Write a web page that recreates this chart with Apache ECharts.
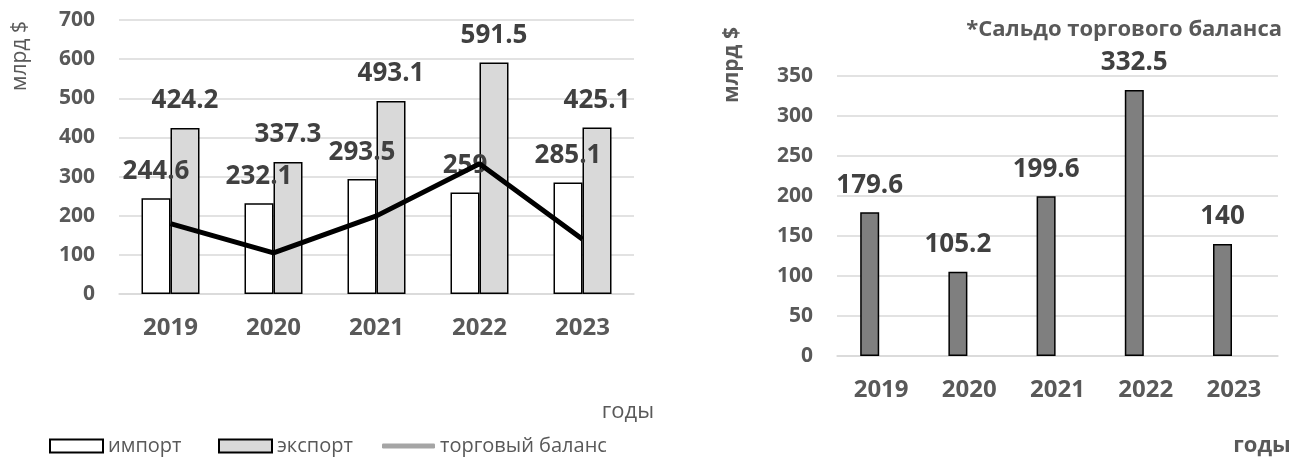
<!DOCTYPE html>
<html>
<head>
<meta charset="utf-8">
<title>Торговый баланс</title>
<script src="https://cdn.jsdelivr.net/npm/echarts@6.0.0/dist/echarts.min.js"></script>
<style>
	html, body { margin: 0; padding: 0; background: #fff; }
	#chart { width: 1293px; height: 458px; }
</style>
</head>
<body>
<div id="chart"></div>
<script>
// данные
var years = ['2019', '2020', '2021', '2022', '2023'];
var importVals = [244.6, 232.1, 293.5, 259, 285.1];
var exportVals = [424.2, 337.3, 493.1, 591.5, 425.1];
var balanceVals = [179.6, 105.2, 199.6, 332.5, 140];
var leftTicks = { min: 0, max: 700, step: 100 };
var rightTicks = { min: 0, max: 350, step: 50 };

var FONT = '"Open Sans", "Noto Sans", sans-serif';
var GRAY = '#595959';
var LABEL = '#404040';
var GRID = '#d9d9d9';

function valueAxis(gridIndex, ticks) {
	return {
		type: 'value',
		gridIndex: gridIndex,
		min: ticks.min,
		max: ticks.max,
		interval: ticks.step,
		axisLine: { show: false },
		axisTick: { show: false },
		axisLabel: {
			margin: 24,
			color: GRAY,
			fontFamily: FONT,
			fontWeight: 'bold',
			fontSize: 21
		},
		splitLine: { lineStyle: { color: GRID, width: 1.5 } }
	};
}

function catAxis(gridIndex) {
	return {
		type: 'category',
		gridIndex: gridIndex,
		data: years,
		axisLine: { lineStyle: { color: GRID, width: 1.5 } },
		axisTick: { show: false },
		axisLabel: {
			margin: 22,
			color: GRAY,
			fontFamily: FONT,
			fontWeight: 'bold',
			fontSize: 24
		}
	};
}

function barLabel() {
	return {
		show: true,
		position: 'top',
		distance: 14,
		color: LABEL,
		fontFamily: FONT,
		fontWeight: 'bold',
		fontSize: 26
	};
}

function legendAt(name, left, h, opt) {
	var item = { name: name, icon: 'rect' };
	if (opt) {
		for (var k in opt) item[k] = opt[k];
	}
	return {
		data: [item],
		left: left,
		top: 431,
		itemWidth: 53,
		itemHeight: h,
		itemGap: 0,
		selectedMode: false,
		textStyle: { color: GRAY, fontFamily: FONT, fontSize: 20, padding: [0, 0, 0, 0] }
	};
}

function sideText(x, y, text, bold, size, rotate) {
	return {
		type: 'text',
		x: x,
		y: y,
		rotation: rotate ? Math.PI / 2 : 0,
		style: {
			text: text,
			fill: GRAY,
			font: (bold ? 'bold ' : '') + size + 'px ' + FONT,
			textAlign: 'center',
			textVerticalAlign: 'middle'
		}
	};
}

var chart = echarts.init(document.getElementById('chart'), null, { renderer: 'canvas' });

var option = {
	animation: false,
	backgroundColor: '#fff',
	title: {
		text: '*Сальдо торгового баланса',
		right: 6,
		top: 14,
		textStyle: { color: GRAY, fontFamily: FONT, fontWeight: 'bold', fontSize: 22 }
	},
	grid: [
		{ left: 119, right: 659, top: 20, bottom: 164 },
		{ left: 837, right: 15, top: 76, bottom: 102 }
	],
	xAxis: [catAxis(0), catAxis(1)],
	yAxis: [valueAxis(0, leftTicks), valueAxis(1, rightTicks)],
	legend: [
		legendAt('импорт', 44, 13),
		legendAt('экспорт', 213, 13),
		legendAt('торговый баланс', 377, 5, {
			icon: 'roundRect',
			itemStyle: { color: '#a5a5a5', borderWidth: 0 }
		})
	],
	graphic: [
		sideText(20, 56, 'млрд $', false, 21, true),
		sideText(628, 412, 'годы', false, 22, false),
		sideText(732, 65, 'млрд $', true, 21, true),
		sideText(1262, 446, 'годы', true, 22, false)
	],
	series: [
		{
			name: 'импорт',
			type: 'bar',
			xAxisIndex: 0,
			yAxisIndex: 0,
			data: importVals,
			barWidth: 29,
			barGap: '0%',
			itemStyle: { color: '#ffffff', borderColor: '#000', borderWidth: 1.5 },
			label: barLabel()
		},
		{
			name: 'экспорт',
			type: 'bar',
			xAxisIndex: 0,
			yAxisIndex: 0,
			data: exportVals,
			barWidth: 29,
			barGap: '0%',
			itemStyle: { color: '#d9d9d9', borderColor: '#000', borderWidth: 1.5 },
			label: barLabel()
		},
		{
			name: 'торговый баланс',
			type: 'line',
			xAxisIndex: 0,
			yAxisIndex: 0,
			data: balanceVals,
			showSymbol: false,
			symbol: 'none',
			z: 5,
			lineStyle: { color: '#000', width: 5 },
			itemStyle: { color: '#000' }
		},
		{
			name: 'сальдо',
			type: 'bar',
			xAxisIndex: 1,
			yAxisIndex: 1,
			data: balanceVals,
			barWidth: 19,
			barGap: '20%',
			itemStyle: { color: '#7f7f7f', borderColor: '#000', borderWidth: 1.5 },
			label: barLabel()
		},
		{
			// пустой ряд, как в исходнике: столбцы смещены влево
			name: 'пусто',
			type: 'bar',
			xAxisIndex: 1,
			yAxisIndex: 1,
			data: [],
			barWidth: 19,
			barGap: '20%'
		}
	]
};

chart.setOption(option);
</script>
</body>
</html>
